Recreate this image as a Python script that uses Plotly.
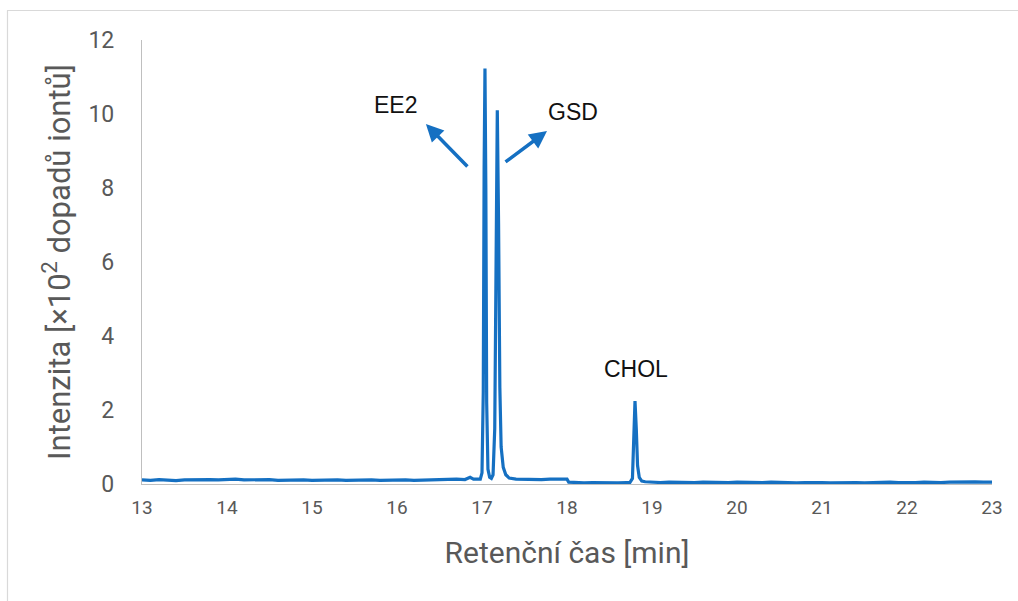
import plotly.graph_objects as go

# Chromatogram trace: retention time [min] and intensity [x10^2 ion counts]
retention_time = [
    13.0, 13.1, 13.2, 13.3, 13.4, 13.5, 13.6, 13.7, 13.8, 13.9,
    14.0, 14.1, 14.2, 14.3, 14.4, 14.5, 14.6, 14.7, 14.8, 14.9,
    15.0, 15.1, 15.2, 15.3, 15.4, 15.5, 15.6, 15.7, 15.8, 15.9,
    16.0, 16.1, 16.2, 16.3, 16.4, 16.5, 16.6, 16.7, 16.8, 16.86,
    16.9, 16.95, 16.98, 17.0, 17.015, 17.025, 17.035, 17.045, 17.055, 17.07,
    17.09, 17.11, 17.13, 17.15, 17.165, 17.18, 17.195, 17.21, 17.225, 17.25,
    17.28, 17.32, 17.4, 17.5, 17.6, 17.7, 17.8, 17.9, 18.0, 18.02,
    18.1, 18.2, 18.3, 18.4, 18.5, 18.6, 18.7, 18.74, 18.77, 18.785,
    18.8, 18.815, 18.83, 18.85, 18.88, 18.92, 19.0, 19.1, 19.2, 19.3,
    19.4, 19.5, 19.6, 19.7, 19.8, 19.9, 20.0, 20.1, 20.2, 20.3,
    20.4, 20.5, 20.6, 20.7, 20.8, 20.9, 21.0, 21.1, 21.2, 21.3,
    21.4, 21.5, 21.6, 21.7, 21.8, 21.9, 22.0, 22.1, 22.2, 22.3,
    22.4, 22.5, 22.6, 22.7, 22.8, 22.9, 23.0,
]
intensity = [
    0.11, 0.10, 0.12, 0.10, 0.09, 0.11, 0.12, 0.11, 0.12, 0.11,
    0.12, 0.13, 0.11, 0.12, 0.13, 0.12, 0.10, 0.11, 0.12, 0.11,
    0.10, 0.11, 0.12, 0.11, 0.10, 0.11, 0.12, 0.11, 0.10, 0.11,
    0.12, 0.11, 0.10, 0.11, 0.12, 0.11, 0.12, 0.13, 0.12, 0.18,
    0.13, 0.12, 0.13, 0.30, 2.50, 8.50, 11.23, 8.00, 2.20, 0.40,
    0.18, 0.15, 0.25, 1.50, 6.50, 10.10, 7.00, 2.60, 1.00, 0.45,
    0.25, 0.16, 0.13, 0.12, 0.13, 0.12, 0.13, 0.14, 0.13, 0.05,
    0.04, 0.03, 0.04, 0.03, 0.04, 0.03, 0.04, 0.04, 0.15, 1.20,
    2.24, 1.50, 0.50, 0.18, 0.08, 0.06, 0.05, 0.04, 0.05, 0.04,
    0.03, 0.04, 0.05, 0.04, 0.03, 0.04, 0.05, 0.04, 0.03, 0.04,
    0.05, 0.04, 0.04, 0.03, 0.04, 0.05, 0.04, 0.03, 0.04, 0.05,
    0.04, 0.03, 0.04, 0.04, 0.05, 0.04, 0.03, 0.04, 0.05, 0.04,
    0.04, 0.05, 0.06, 0.07, 0.06, 0.05, 0.05,
]

# Compound labels and their text positions (time, intensity)
compound_names = ["EE2", "GSD", "CHOL"]
label_time = [15.98, 18.07, 18.81]
label_intensity = [10.24, 10.05, 3.11]

# Pointer arrows for the two overlapping peaks: head position (time, intensity)
arrow_time = [16.34, 17.765]
arrow_intensity = [9.73, 9.54]

x_ticks = [13, 14, 15, 16, 17, 18, 19, 20, 21, 22, 23]
y_ticks = [0, 2, 4, 6, 8, 10, 12]

LINE_BLUE = "#1570c2"
AXIS_GREY = "#bfbfbf"
TEXT_GREY = "#595959"

fig = go.Figure()
fig.add_trace(go.Scatter(
    x=retention_time, y=intensity, mode="lines",
    line=dict(color=LINE_BLUE, width=3.2),
    showlegend=False, hoverinfo="skip",
))

annotations = []
for name, t, v in zip(compound_names, label_time, label_intensity):
    annotations.append(dict(
        x=t, y=v, xref="x", yref="y", text=name, showarrow=False,
        font=dict(family="Liberation Sans, Arial", size=23, color="#111111"),
    ))

# Arrow tails are offset in pixels from the heads
tail_offsets = [(43, 44), (-43, 32)]
for t, v, (dx, dy) in zip(arrow_time, arrow_intensity, tail_offsets):
    annotations.append(dict(
        x=t, y=v, xref="x", yref="y", text="", showarrow=True,
        ax=dx, ay=dy, arrowhead=2, arrowsize=1.0, arrowwidth=3.5,
        arrowcolor=LINE_BLUE, standoff=0,
    ))

# Outer frame (top and left edges) placed in pixel terms of the figure
W, H = 1018, 601
ML, MR, MT, MB = 142, 26, 40, 117
pw, ph = W - ML - MR, H - MT - MB


def px_x(p):
    return (p - ML) / pw


def px_y(p):
    return (H - MB - p) / ph


shapes = [
    dict(type="line", xref="paper", yref="paper",
         x0=px_x(7), x1=px_x(1018), y0=px_y(10.5), y1=px_y(10.5),
         line=dict(color="#d9d9d9", width=1.2)),
    dict(type="line", xref="paper", yref="paper",
         x0=px_x(7.5), x1=px_x(7.5), y0=px_y(10.5), y1=px_y(601),
         line=dict(color="#d9d9d9", width=1.2)),
]

fig.update_layout(
    width=W, height=H,
    margin=dict(l=ML, r=MR, t=MT, b=MB),
    paper_bgcolor="white", plot_bgcolor="white",
    font=dict(family="Roboto, Open Sans, sans-serif", color=TEXT_GREY),
    annotations=annotations,
    shapes=shapes,
    xaxis=dict(
        range=[13, 23], tickvals=x_ticks, showgrid=False, zeroline=False,
        showline=True, linecolor=AXIS_GREY, linewidth=1.3,
        ticks="", ticklabelstandoff=6,
        tickfont=dict(size=19, color=TEXT_GREY),
        title=dict(text="Retenční čas [min]", font=dict(size=30, color=TEXT_GREY), standoff=24),
    ),
    yaxis=dict(
        range=[0, 12], tickvals=y_ticks, showgrid=False, zeroline=False,
        showline=True, linecolor=AXIS_GREY, linewidth=1.3,
        ticks="", ticklabelstandoff=22,
        tickfont=dict(size=23, color=TEXT_GREY),
        title=dict(text="Intenzita [×10<sup>2</sup> dopadů iontů]",
                   font=dict(size=31, color=TEXT_GREY), standoff=8),
    ),
)

fig.write_html("out.html")
